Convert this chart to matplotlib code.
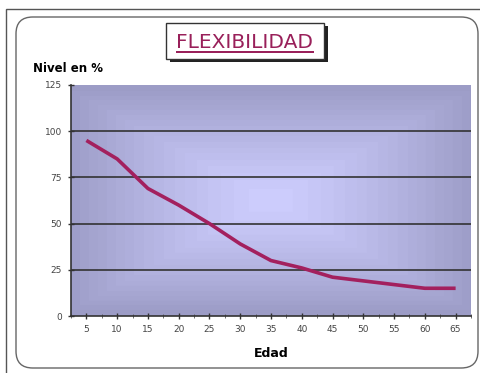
import matplotlib.pyplot as plt
import numpy as np
from matplotlib.patches import FancyBboxPatch, Rectangle

# datos de flexibilidad por edad
edades = [5, 10, 15, 20, 25, 30, 35, 40, 45, 50, 55, 60, 65]
nivel = [95, 85, 69, 60, 50, 39, 30, 26, 21, 19, 17, 15, 15]
y_ticks = [0, 25, 50, 75, 100, 125]

W, H = 480, 373
fig = plt.figure(figsize=(W / 100, H / 100), dpi=100)
fig.patch.set_facecolor('white')

# marco exterior y recuadro redondeado
fig.patches.append(Rectangle((6 / W, -0.01), 1.0, 1 - 9 / H + 0.01, transform=fig.transFigure,
                             fill=False, edgecolor='#555555', lw=1.0))
fig.patches.append(FancyBboxPatch((16 / W, 1 - 368 / H), (478 - 16) / W, (368 - 17) / H,
                                  boxstyle='round,pad=0,rounding_size=0.035',
                                  transform=fig.transFigure, fill=False,
                                  edgecolor='#666666', lw=1.0, mutation_aspect=W / H))

ax = fig.add_axes([71 / W, 1 - 316 / H, 400 / W, (316 - 85) / H])
x = np.arange(len(edades))

# fondo degradado desde el centro
nx, ny = 400, 231
u = np.abs(np.linspace(-1, 1, nx))[None, :]
v = np.abs(np.linspace(-1, 1, ny))[:, None]
t = np.maximum(u * 1.0, v * 1.05)
t = np.clip(t, 0, 1) ** 1.3
t = np.floor(t * 18) / 18
centro = np.array([204, 204, 252]) / 255
borde = np.array([156, 156, 198]) / 255
img = centro[None, None, :] + (borde - centro)[None, None, :] * t[:, :, None]
ax.imshow(img, extent=[-0.5, len(edades) - 0.5, 0, 125], aspect='auto', zorder=0,
          interpolation='bilinear')

for yv in y_ticks[1:-1]:
    ax.axhline(yv, color='#333333', lw=1.2, zorder=1)

ax.plot(x, nivel, color='#A3205E', lw=2.6, solid_capstyle='butt', zorder=3)

ax.set_xlim(-0.5, len(edades) - 0.5)
ax.set_ylim(0, 125)
ax.set_xticks(x)
ax.set_xticks(np.arange(-0.5, len(edades), 1), minor=True)
ax.set_xticklabels([str(e) for e in edades])
ax.set_yticks(y_ticks)
ax.tick_params(axis='both', direction='inout', length=5, width=1, color='#333333',
               labelsize=6.5, labelcolor='#444444', pad=4)
ax.tick_params(axis='x', which='minor', direction='inout', length=3, color='#555555')
for s in ['top', 'right']:
    ax.spines[s].set_visible(False)
for s in ['left', 'bottom']:
    ax.spines[s].set_color('#333333')
    ax.spines[s].set_linewidth(1.2)

ax.set_xlabel('Edad', fontsize=9, fontweight='bold', labelpad=9)
fig.text(33 / W, 1 - 69 / H, 'Nivel en %', fontsize=8.5, fontweight='bold', va='center')

# título con recuadro y sombra
fig.patches.append(Rectangle((170 / W, 1 - 62 / H), 158 / W, 36 / H, transform=fig.transFigure,
                             facecolor='#222222', edgecolor='none'))
fig.patches.append(Rectangle((166 / W, 1 - 59 / H), 158 / W, 36 / H, transform=fig.transFigure,
                             facecolor='white', edgecolor='#333333', lw=1.0))
fig.text(245 / W, 1 - 47.5 / H, 'FLEXIBILIDAD', fontsize=14.5, color='#99205A',
         family='DejaVu Sans', ha='center', va='baseline')
fig.patches.append(Rectangle((176 / W, 1 - 52.5 / H), 138 / W, 1.3 / H, transform=fig.transFigure,
                             facecolor='#99205A', edgecolor='none'))

fig.savefig('out.png', dpi=100)
